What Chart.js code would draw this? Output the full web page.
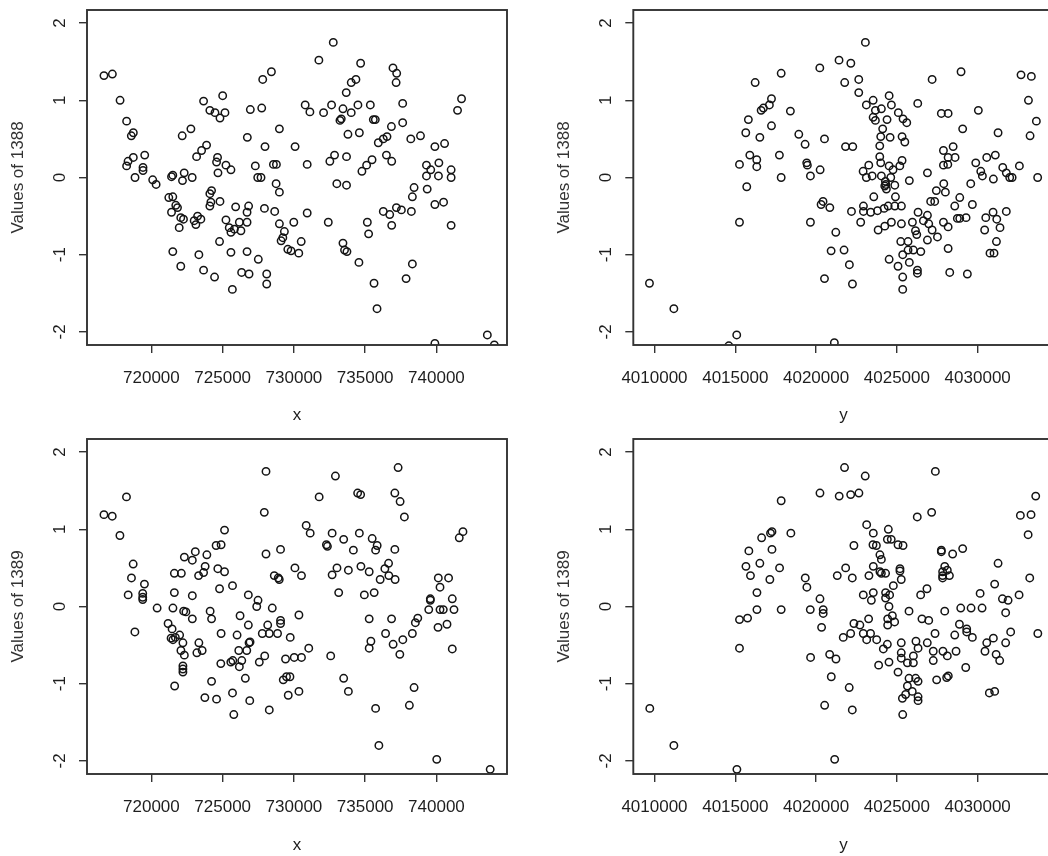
<!DOCTYPE html>
<html><head><meta charset="utf-8">
<script src="https://cdn.jsdelivr.net/npm/chart.js@4.4.1/dist/chart.umd.min.js"></script>
<style>
html,body{margin:0;padding:0;background:#fff;overflow:hidden;width:1048px;height:856px;position:relative;}
canvas{position:absolute;}
</style></head><body>
<canvas id="c1" width="524" height="428" style="left:0;top:0;width:524px;height:428px"></canvas>
<canvas id="c2" width="560" height="428" style="left:524px;top:0;width:560px;height:428px"></canvas>
<canvas id="c3" width="524" height="428" style="left:0;top:428px;width:524px;height:428px"></canvas>
<canvas id="c4" width="560" height="428" style="left:524px;top:428px;width:560px;height:428px"></canvas>
<script>
// ---- tick labels ----
const xCoordTicks = [720000, 725000, 730000, 735000, 740000];
const yCoordTicks = [4010000, 4015000, 4020000, 4025000, 4030000];
const valueTicks = [-2, -1, 0, 1, 2];

// ---- panel 1: x vs Values of 1388 ----
const p1x = [
716670,717260,717800,718260,718730,718590,718730,718360,718260,719530,
719410,719410,718850,720090,720330,721500,721410,722300,722180,722860,
721220,721500,721710,721830,721410,722060,722250,721950,723000,723240,
723470,723120,721500,722060,723330,723660,724430,725680,724780,725580,
726710,727500,726330,726850,728090,728090,722160,722770,723170,723520,
723870,723660,725000,724100,724460,724810,725160,724640,724570,725230,
725580,724670,724220,724100,724170,724100,724810,725230,725910,726820,
726710,725460,725580,726170,726280,726710,725820,727930,728650,728980,
729990,729330,729100,729220,729570,729800,727810,728420,726940,727740,
728980,726730,727970,730080,727290,728560,728770,727460,727690,728750,
728980,
732760,731750,734680,736950,737210,737170,734350,734020,733670,730790,
731120,732080,732640,733440,734020,734490,735360,737630,733230,733320,
735570,735710,736840,737630,733790,734590,735920,736270,736530,738200,
738880,739890,740570,730930,732520,732850,733690,734770,735100,735480,
736490,736860,739300,739600,740170,739300,740140,741030,741030,733010,
733690,738430,738310,739350,739890,740500,730930,732410,735150,735240,
736270,736720,737190,737540,736860,738240,741030,730510,730340,733440,
733550,733720,734560,735620,735830,737870,738310,741480,741760,743570,
739890,744060];
const p1v = [
1.32,1.34,1.00,0.73,0.58,0.54,0.26,0.21,0.15,0.29,
0.13,0.09,0.00,-0.03,-0.09,0.03,0.01,0.06,-0.04,0.00,
-0.26,-0.25,-0.36,-0.39,-0.45,-0.52,-0.54,-0.65,-0.56,-0.50,
-0.54,-0.61,-0.96,-1.15,-1.00,-1.20,-1.29,-1.45,-0.83,-0.97,
-0.96,-1.06,-1.23,-1.25,-1.25,-1.38,0.54,0.63,0.27,0.35,
0.42,0.99,1.06,0.87,0.84,0.77,0.84,0.26,0.20,0.16,
0.10,0.06,-0.17,-0.21,-0.32,-0.37,-0.31,-0.55,-0.38,-0.37,
-0.45,-0.65,-0.71,-0.58,-0.69,-0.58,-0.67,-0.40,-0.44,-0.60,
-0.58,-0.70,-0.82,-0.78,-0.93,-0.95,1.27,1.37,0.88,0.90,
0.63,0.52,0.40,0.40,0.15,0.17,0.17,0.00,0.00,-0.08,
-0.19,
1.75,1.52,1.48,1.42,1.35,1.23,1.27,1.23,1.10,0.94,
0.85,0.84,0.94,0.89,0.84,0.94,0.94,0.96,0.74,0.76,
0.75,0.75,0.66,0.71,0.56,0.58,0.45,0.50,0.53,0.50,
0.54,0.40,0.44,0.17,0.21,0.29,0.27,0.08,0.16,0.23,
0.29,0.21,0.16,0.10,0.19,0.02,0.02,0.10,0.00,-0.08,
-0.10,-0.13,-0.25,-0.15,-0.35,-0.32,-0.46,-0.58,-0.58,-0.73,
-0.44,-0.48,-0.39,-0.42,-0.62,-0.44,-0.62,-0.83,-0.98,-0.85,
-0.94,-0.96,-1.10,-1.37,-1.70,-1.31,-1.12,0.87,1.02,-2.04,
-2.15,-2.17];

// ---- panel 2: y vs Values of 1388 ----
const p2y = [
4009690,4011200,4015090,4014600,4021130,4016230,4017840,4020230,4021420,4017240,
4017110,4016740,4016600,4018410,4015810,4017240,4015650,4016520,4018930,4019320,
4020520,4015900,4016330,4016330,4015260,4017730,4017840,4019420,4019460,4019650,
4020250,4015710,4015260,4019650,4020430,4020310,4020850,4021220,4020930,4020520,
4023050,4022150,4021770,4022640,4022640,4024520,4027180,4028970,4032680,4033320,
4033140,4033630,4033240,4033710,4026290,4027750,4028170,4030040,4029070,4031260,
4021820,4022270,4023110,4023530,4023670,4023530,4023670,4024040,4024390,4024660,
4025090,4025380,4025610,4024120,4024000,4024580,4025320,4025490,4023940,4023940,
4024000,4023260,4022910,4023110,4023470,4024040,4024520,4024760,4025180,4025320,
4024620,4024310,4024350,4024870,4024910,4023570,4025770,4026890,4022190,4022760,
4022930,4022930,4023380,4023800,4024210,4024460,4024870,4025280,4023840,4024250,
4024660,4025280,4021730,4022060,4022250,4024520,4025070,4025360,4025360,4025240,
4025690,4025360,4025690,4025770,4026020,4026480,4026270,4026270,4025960,4026150,
4026230,4026310,4026890,4026640,4026890,4027180,4027510,4026970,4027880,4028170,
4027440,4028000,4027900,4027090,4027340,4028170,4028270,4029360,4027880,4028480,
4028600,4028170,4027880,4028150,4028740,4028890,4029280,4028580,4028890,4029670,
4029570,4029880,4030190,4030290,4030560,4031090,4030970,4031550,4031770,4031980,
4032130,4032580,4030500,4030950,4031180,4030430,4031380,4031770,4031160,4030760,
4031010,4024250,4024290];
const p2v = [
-1.37,-1.70,-2.04,-2.18,-2.14,1.23,1.35,1.42,1.52,1.02,
0.94,0.90,0.87,0.86,0.75,0.67,0.58,0.52,0.56,0.43,
0.50,0.29,0.23,0.14,0.17,0.29,0.00,0.19,0.16,0.02,
0.10,-0.12,-0.58,-0.58,-0.31,-0.35,-0.39,-0.71,-0.95,-1.31,
1.75,1.48,1.23,1.27,1.10,1.06,1.27,1.37,1.33,1.31,
1.00,0.73,0.54,0.00,0.96,0.83,0.83,0.87,0.63,0.58,
0.40,0.40,0.94,1.00,0.87,0.78,0.74,0.89,0.75,0.94,
0.84,0.76,0.71,0.63,0.53,0.52,0.53,0.46,0.41,0.27,
0.19,0.16,0.08,0.00,0.02,0.02,0.15,0.10,0.15,0.22,
0.00,-0.09,-0.15,-0.10,-0.25,-0.25,-0.04,0.06,-0.44,-0.58,
-0.37,-0.44,-0.45,-0.43,-0.40,-0.37,-0.37,-0.37,-0.68,-0.63,
-0.58,-0.60,-0.94,-1.13,-1.38,-1.06,-1.15,-1.29,-1.45,-0.83,
-0.83,-1.00,-0.94,-1.10,-0.94,-0.96,-1.20,-1.24,-0.58,-0.69,
-0.74,-0.45,-0.49,-0.56,-0.81,-0.68,-0.77,-0.60,-0.58,-0.64,
-0.17,-0.19,-0.08,-0.31,-0.31,-0.92,-1.23,-1.25,0.35,0.40,
0.26,0.26,0.16,0.17,-0.53,-0.53,-0.52,-0.37,-0.26,-0.35,
-0.08,0.19,0.08,0.02,0.26,0.29,-0.02,0.13,0.06,0.00,
0.00,0.15,-0.52,-0.45,-0.54,-0.68,-0.65,-0.44,-0.83,-0.98,
-0.98,-0.11,-0.05];

// ---- panel 3: x vs Values of 1389 ----
const p3x = [
716670,717250,718250,717790,718720,718600,719510,718370,719390,719390,
719390,718840,720400,721510,721610,721610,722100,722310,722870,723080,
723890,723770,723660,723310,722870,722260,722420,722870,721170,721450,
721380,721510,721680,721980,722210,722070,722310,722210,722210,722210,
721630,723330,723190,723560,724120,724220,724540,724890,725130,724660,
725130,724780,725690,724890,724870,724220,723750,724570,725690,725780,
726900,728270,726590,725570,725710,726170,726340,726130,726690,726850,
726920,726010,726800,726220,726800,727480,727390,728480,727780,728270,
728850,728160,729060,729060,729740,727950,727570,729410,730020,729250,
729480,729720,729600,728040,727920,728040,729060,730070,728620,728900,
728970,
737310,732910,731770,734470,734680,737080,737450,737750,730860,731140,
732680,734590,733490,732280,732350,734170,735490,735840,735730,737080,
730530,733020,732680,733820,734700,735280,736050,736380,736640,736660,
737100,733140,734940,735630,730350,735280,736850,738520,738690,739460,
739570,739570,740250,740480,741230,741110,740130,740850,740250,740740,
740110,741110,736430,738310,737640,736960,737430,735400,735280,731040,
730530,732580,733490,733820,730350,735730,738430,738100,735960,740020,
743770,741600,741860];
const p3v = [
1.19,1.17,1.42,0.92,0.55,0.37,0.29,0.15,0.17,0.12,
0.09,-0.33,-0.02,-0.02,0.18,0.43,0.43,0.64,0.60,0.71,
0.67,0.52,0.44,0.40,0.14,-0.06,-0.07,-0.16,-0.22,-0.29,
-0.41,-0.43,-0.40,-0.37,-0.47,-0.57,-0.63,-0.77,-0.81,-0.85,
-1.03,-0.47,-0.60,-0.57,-0.06,-0.16,0.79,0.80,0.99,0.49,
0.45,0.23,0.27,-0.35,-0.74,-0.97,-1.18,-1.20,-1.12,-1.40,
-1.22,-1.34,-0.93,-0.72,-0.70,-0.78,-0.70,-0.57,-0.57,-0.47,
-0.46,-0.37,-0.24,-0.12,0.15,0.08,0.00,-0.02,-0.35,-0.35,
-0.35,-0.24,-0.18,-0.22,-0.40,-0.64,-0.72,-0.68,-0.66,-0.95,
-0.91,-0.91,-1.15,1.75,1.22,0.68,0.74,0.50,0.40,0.37,
0.35,
1.80,1.69,1.42,1.47,1.45,1.47,1.36,1.16,1.05,0.95,
0.95,0.95,0.87,0.80,0.78,0.73,0.88,0.79,0.73,0.74,
0.40,0.50,0.41,0.47,0.52,0.45,0.35,0.49,0.56,0.40,
0.35,0.18,0.15,0.18,-0.11,-0.16,-0.16,-0.21,-0.15,-0.04,
0.10,0.08,-0.04,-0.04,-0.04,0.10,0.37,0.37,0.25,-0.23,
-0.27,-0.55,-0.35,-0.35,-0.43,-0.49,-0.62,-0.45,-0.54,-0.54,
-0.66,-0.64,-0.93,-1.10,-1.10,-1.32,-1.05,-1.28,-1.80,-1.98,
-2.11,0.89,0.97];

// ---- panel 4: y vs Values of 1389 ----
const p4y = [
4009710,4011200,4015100,4021150,4017840,4020240,4021430,4017270,4017180,4016630,
4018440,4015840,4017270,4015660,4016520,4017740,4015940,4017140,4016340,4016340,
4017840,4015260,4015760,4015260,4019330,4019430,4021310,4020240,4019640,4020440,
4020440,4020340,4019660,4020840,4021230,4020940,4020530,
4021760,4023040,4022140,4022650,4027380,4027150,4026260,4033590,4032640,4033300,
4033120,4033220,4033720,4023130,4023540,4022340,4024470,4024410,4024650,4025070,
4025380,4023520,4023730,4023950,4024040,4023540,4023950,4024040,4024300,4023270,
4021830,4022240,4025190,4025190,4025270,4024780,4022920,4023540,4023420,4024300,
4024550,4024300,4024510,4024720,4024430,4024430,4024860,4023250,4022340,4022710,
4022920,4022140,4021680,4023130,4023370,4023750,4024410,4024160,4023870,4024510,
4025070,4025270,4025270,4025270,4025650,4026020,4026020,4025750,4026160,4026310,
4025650,4025540,4025340,4025950,4026310,4026310,4025360,4026180,4026310,4026880,
4027250,4027250,4027460,4028080,4028180,4027850,4028120,4028660,4027360,4028580,
4029320,4029320,4029670,4028870,4029260,4025750,4026550,4026970,4026470,4026860,
4027960,4027750,4027750,4028450,4029070,4027960,4027830,4027830,4028120,4028250,
4027830,4028950,4029590,4030270,4030150,4031050,4031260,4031530,4031880,4032560,
4031730,4032040,4031730,4030970,4030560,4030450,4031140,4031360,4030720,4031050,
4022050,4022240];
const p4v = [
-1.32,-1.80,-2.11,-1.98,1.37,1.47,1.43,0.97,0.95,0.89,
0.95,0.72,0.74,0.52,0.56,0.50,0.40,0.35,0.18,-0.04,
-0.04,-0.17,-0.15,-0.54,0.37,0.25,0.40,0.10,-0.04,-0.04,
-0.09,-0.27,-0.66,-0.62,-0.68,-0.91,-1.28,
1.80,1.69,1.45,1.47,1.75,1.22,1.16,1.43,1.18,1.19,
0.93,0.37,-0.35,1.06,0.95,0.79,1.00,0.87,0.87,0.80,
0.79,0.80,0.79,0.67,0.61,0.52,0.45,0.43,0.43,0.40,
0.50,0.37,0.49,0.46,0.35,0.27,0.15,0.18,0.08,0.18,
0.15,0.11,0.00,-0.12,-0.16,-0.24,-0.20,-0.16,-0.22,-0.24,
-0.35,-0.35,-0.40,-0.43,-0.35,-0.43,-0.49,-0.55,-0.76,-0.72,
-0.85,-0.47,-0.60,-0.67,-0.73,-0.64,-0.73,-0.93,-0.93,-0.97,
-1.03,-1.14,-1.19,-1.10,-1.17,-1.22,-1.40,-0.45,-0.54,-0.47,
-0.58,-0.70,-0.95,-0.92,-0.90,-0.58,-0.64,-0.58,-0.35,-0.37,
-0.29,-0.33,-0.40,-0.23,-0.79,-0.06,-0.16,-0.18,0.15,0.23,
-0.06,0.71,0.73,0.68,0.75,0.52,0.45,0.40,0.47,0.40,
0.37,-0.02,-0.02,-0.02,0.17,0.29,0.56,0.10,0.08,0.15,
-0.08,-0.33,-0.47,-0.41,-0.47,-0.58,-0.62,-0.70,-1.12,-1.10,
-1.05,-1.34];

const FONT = "'Liberation Sans', Arial, sans-serif";
const TXT = '#1e1e1e';

const boxPlugin = {
  id: 'rbox',
  afterDraw(chart) {
    const a = chart.chartArea, c = chart.ctx;
    c.save();
    c.strokeStyle = '#333';
    c.lineWidth = 1.9;
    c.strokeRect(a.left, a.top, a.right - a.left, a.bottom - a.top);
    c.restore();
  }
};

function panel(id, xs, vs, xMin, xMax, xTickVals, xTitle, yTitle, g) {
  const pts = xs.map((x, i) => ({x: x, y: vs[i]}));
  new Chart(document.getElementById(id), {
    type: 'scatter',
    data: {datasets: [{
      data: pts, pointStyle: 'circle', pointRadius: 3.7, pointHoverRadius: 3.7,
      borderWidth: 1.5, borderColor: '#141414', backgroundColor: 'rgba(0,0,0,0)', clip: 0
    }]},
    options: {
      responsive: false, animation: false, events: [],
      layout: {padding: {left: g.l, top: g.t, right: g.r, bottom: 0}},
      plugins: {legend: {display: false}, tooltip: {enabled: false}},
      scales: {
        x: {
          type: 'linear', position: 'bottom', min: xMin, max: xMax,
          afterBuildTicks: s => { s.ticks = xTickVals.map(v => ({value: v})); },
          afterFit: s => { s.height = g.h; s.paddingLeft = 0; s.paddingRight = 0; },
          ticks: {autoSkip: false, maxRotation: 0, minRotation: 0, padding: 15, color: TXT,
                  font: {family: FONT, size: 17}, callback: v => String(v)},
          grid: {display: true, drawOnChartArea: false, drawTicks: true, tickLength: 8, color: '#333', lineWidth: 1.4},
          border: {display: false},
          title: {display: true, text: xTitle, color: TXT, font: {family: FONT, size: 17},
                  padding: {top: 0, bottom: g.xtp}}
        },
        y: {
          type: 'linear', position: 'left', min: -2.17, max: 2.17,
          afterBuildTicks: s => { s.ticks = valueTicks.map(v => ({value: v})); },
          afterFit: s => { s.width = g.w; s.paddingTop = 0; s.paddingBottom = 0; },
          ticks: {autoSkip: false, minRotation: 90, maxRotation: 90, crossAlign: 'center', padding: 11,
                  color: TXT, font: {family: FONT, size: 17}, callback: v => String(v)},
          grid: {display: true, drawOnChartArea: false, drawTicks: true, tickLength: 8, color: '#333', lineWidth: 1.4},
          border: {display: false},
          title: {display: true, text: yTitle, color: '#333', font: {family: FONT, size: 17},
                  padding: {top: 8, bottom: 0}}
        }
      }
    },
    plugins: [boxPlugin]
  });
}

panel('c1', p1x, p1v, 715480, 744950, xCoordTicks, 'x', 'Values of 1388',
      {l: 0, t: 10, r: 17, w: 87, h: 83, xtp: 2});
panel('c2', p2y, p2v, 4008690, 4034690, yCoordTicks, 'y', 'Values of 1388',
      {l: 22, t: 10, r: 30.5, w: 87.3, h: 83, xtp: 2});
panel('c3', p3x, p3v, 715480, 744950, xCoordTicks, 'x', 'Values of 1389',
      {l: 0, t: 11, r: 17, w: 87, h: 82, xtp: 0});
panel('c4', p4y, p4v, 4008690, 4034690, yCoordTicks, 'y', 'Values of 1389',
      {l: 22, t: 11, r: 30.5, w: 87.3, h: 82, xtp: 0});
</script>
</body></html>
